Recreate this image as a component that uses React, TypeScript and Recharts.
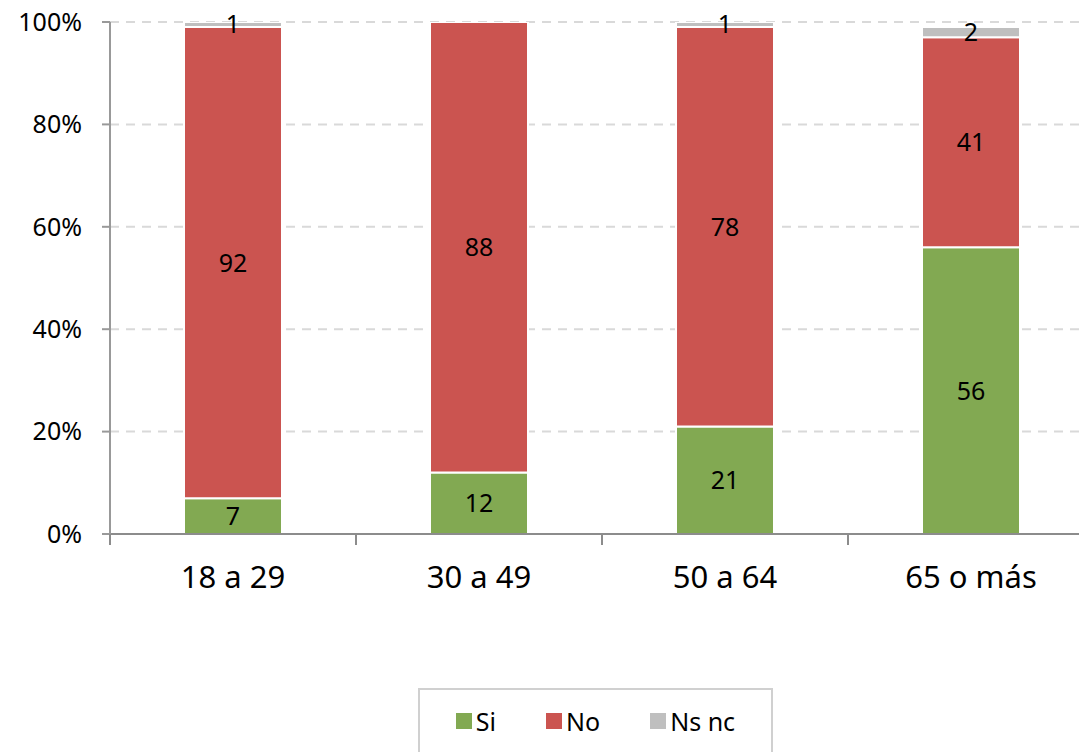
import { BarChart, Bar, XAxis, YAxis, CartesianGrid, Legend, LabelList } from 'recharts';

const categories = ['18 a 29', '30 a 49', '50 a 64', '65 o más'];
const si = [7, 12, 21, 56];
const no = [92, 88, 78, 41];
const nsnc = [1, 0, 1, 2];
const yTicks = [0, 20, 40, 60, 80, 100];

const series = [
    { key: 'si', name: 'Si', color: '#82A952' },
    { key: 'no', name: 'No', color: '#CB5450' },
    { key: 'nsnc', name: 'Ns nc', color: '#BFBFBF' },
];

const data = categories.map((c, i) => ({ cat: c, si: si[i], no: no[i], nsnc: nsnc[i] }));

const FONT = '"Noto Sans", sans-serif';
const X_TICK_SIZE = 11;
const X_TICK_MARGIN = 21;

// category label plus a tick mark on the left edge of each category band
function CategoryTick(props: any) {
    const { x, y, payload, index, visibleTicksCount } = props;
    const half = payload.offset ?? 0;
    const top = y - X_TICK_SIZE - X_TICK_MARGIN;
    const edges = [x - half];
    if (index === visibleTicksCount - 1) edges.push(x + half);
    return (
        <g>
            {edges.map((ex) => (
                <line key={ex} x1={ex} x2={ex} y1={top} y2={top + X_TICK_SIZE} stroke="#8C8C8C" strokeWidth={2} />
            ))}
            <text x={x} y={y} dy="0.71em" textAnchor="middle" fontFamily={FONT} fontSize={31} fill="#000">
                {payload.value}
            </text>
        </g>
    );
}

function LegendBox() {
    // keep the series order (recharts sorts legend items by name)
    return (
        <div
            style={{
                border: '2px solid #D0D0D0',
                height: 70,
                boxSizing: 'border-box',
                display: 'flex',
                alignItems: 'center',
                justifyContent: 'center',
                gap: 50,
                fontFamily: FONT,
                fontSize: 25,
                color: '#000',
                paddingBottom: 4,
            }}
        >
            {series.map((s) => (
                <span key={s.key} style={{ display: 'flex', alignItems: 'center' }}>
                    <span style={{ width: 16, height: 16, background: s.color, display: 'inline-block', marginRight: 4 }} />
                    {s.name}
                </span>
            ))}
        </div>
    );
}

export default function App() {
    return (
        <div style={{ position: 'absolute', left: 0, top: 0, width: 1079, height: 752, overflow: 'hidden', background: '#fff' }}>
            <BarChart
                width={1100}
                height={752}
                data={data}
                barCategoryGap={0}
                margin={{ top: 22, right: 6, left: 0, bottom: 88 }}
            >
                <CartesianGrid
                    horizontal
                    vertical={false}
                    stroke="#D9D9D9"
                    strokeWidth={2}
                    strokeDasharray="9 7"
                    horizontalValues={[20, 40, 60, 80, 100]}
                />
                <XAxis
                    dataKey="cat"
                    height={60}
                    tickLine={false}
                    tickSize={X_TICK_SIZE}
                    tickMargin={X_TICK_MARGIN}
                    axisLine={{ stroke: '#8C8C8C', strokeWidth: 2 }}
                    tick={<CategoryTick />}
                    interval={0}
                />
                <YAxis
                    type="number"
                    domain={[0, 100]}
                    ticks={yTicks}
                    width={110}
                    tickFormatter={(v) => `${v}%`}
                    tick={{ fontFamily: FONT, fontSize: 25, fill: '#000' }}
                    tickSize={8}
                    tickMargin={20}
                    axisLine={{ stroke: '#999999', strokeWidth: 2 }}
                    tickLine={{ stroke: '#999999', strokeWidth: 2 }}
                    allowDataOverflow
                />
                <Legend
                    content={<LegendBox />}
                    wrapperStyle={{ position: 'absolute', left: 418, top: 688, width: 355, bottom: 'auto' }}
                />
                {series.map((s) => (
                    <Bar
                        key={s.key}
                        dataKey={s.key}
                        name={s.name}
                        stackId="a"
                        fill={s.color}
                        stroke="#FFFFFF"
                        strokeWidth={2}
                        barSize={98}
                        isAnimationActive={false}
                    >
                        <LabelList
                            dataKey={s.key}
                            position="center"
                            formatter={(v: any) => (v ? String(v) : '')}
                            style={{ fontFamily: FONT, fontSize: 25, fill: '#000' }}
                        />
                    </Bar>
                ))}
            </BarChart>
        </div>
    );
}
